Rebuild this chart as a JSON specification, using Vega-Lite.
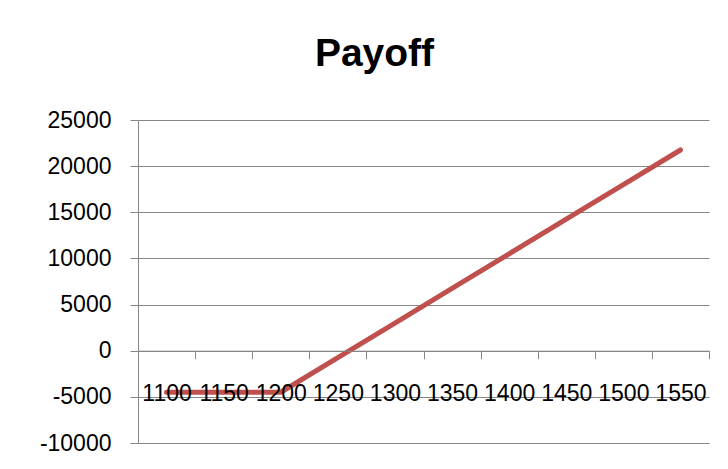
{
  "$schema": "https://vega.github.io/schema/vega-lite/v6.json",
  "autosize": {"type": "none"},
  "width": 571,
  "height": 323,
  "padding": {"left": 138, "top": 120, "right": 19, "bottom": 26},
  "background": "white",
  "title": {
    "text": "Payoff",
    "font": "Liberation Sans",
    "fontSize": 39,
    "fontWeight": "bold",
    "color": "black",
    "anchor": "middle",
    "frame": "group",
    "baseline": "alphabetic",
    "offset": 4,
    "dx": -49
  },
  "data": {
    "values": [
      {"price": 1100, "payoff": -4500},
      {"price": 1150, "payoff": -4500},
      {"price": 1200, "payoff": -4500},
      {"price": 1250, "payoff": -750},
      {"price": 1300, "payoff": 3000},
      {"price": 1350, "payoff": 6750},
      {"price": 1400, "payoff": 10500},
      {"price": 1450, "payoff": 14250},
      {"price": 1500, "payoff": 18000},
      {"price": 1550, "payoff": 21750}
    ]
  },
  "config": {
    "view": {"stroke": null},
    "axis": {
      "labelFont": "Liberation Sans",
      "labelFontSize": 23,
      "labelColor": "black",
      "domainColor": "#878787",
      "tickColor": "#878787",
      "gridColor": "#878787",
      "domainWidth": 1,
      "tickWidth": 1,
      "gridWidth": 1,
      "title": null
    }
  },
  "mark": {"type": "line", "color": "#C0504D", "strokeWidth": 5, "strokeCap": "round", "strokeJoin": "round"},
  "encoding": {
    "x": {
      "field": "price",
      "type": "ordinal",
      "bandPosition": 0.5,
      "scale": {"type": "band", "paddingInner": 0, "paddingOuter": 0},
      "axis": {
        "offset": -92.3,
        "zindex": 1,
        "tickBand": "extent",
        "tickSize": 8,
        "labelPadding": 24,
        "labelAngle": 0,
        "labelOverlap": false,
        "grid": false
      }
    },
    "y": {
      "field": "payoff",
      "type": "quantitative",
      "scale": {"domain": [-10000, 25000], "nice": false, "zero": false},
      "axis": {
        "values": [-10000, -5000, 0, 5000, 10000, 15000, 20000, 25000],
        "labelExpr": "'' + datum.value",
        "tickSize": 8,
        "labelPadding": 19,
        "grid": true,
        "labelOverlap": false
      }
    }
  }
}
